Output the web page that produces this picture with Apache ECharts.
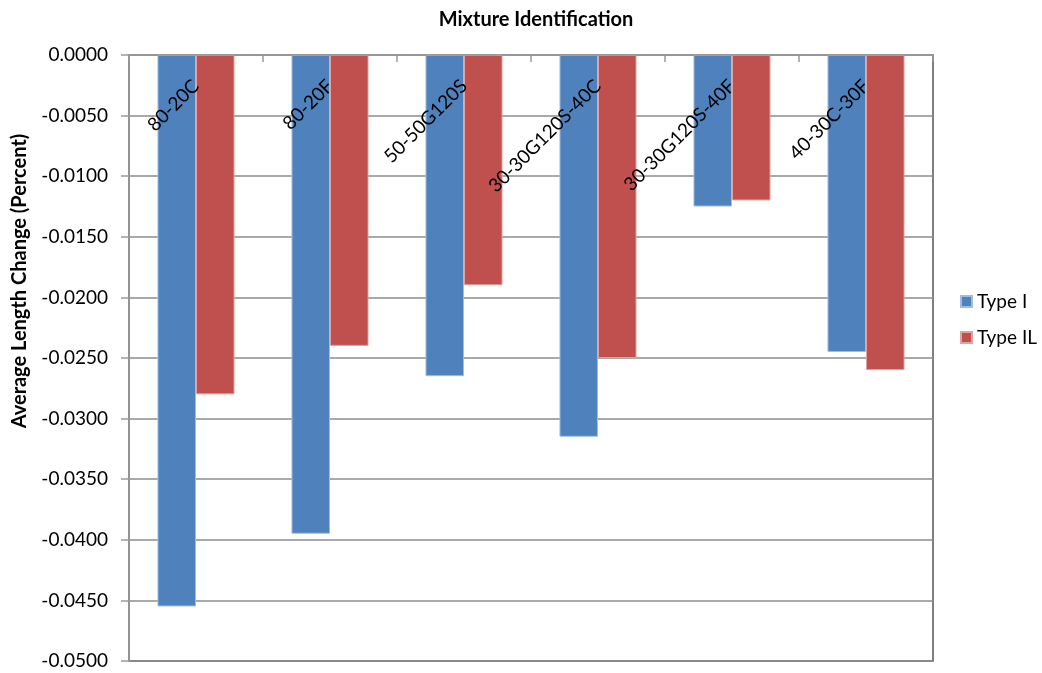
<!DOCTYPE html>
<html>
<head>
<meta charset="utf-8">
<script src="https://cdn.jsdelivr.net/npm/echarts@6/dist/echarts.min.js"></script>
<style>
  html, body { margin: 0; padding: 0; background: #ffffff; }
  #chart { width: 1042px; height: 673px; }
</style>
</head>
<body>
<div id="chart"></div>
<script>
// Mixture names along the category axis
const categories = ['80-20C', '80-20F', '50-50G120S', '30-30G120S-40C', '30-30G120S-40F', '40-30C-30F'];

// Average length change (percent) per cement type
const typeI  = [-0.0455, -0.0395, -0.0265, -0.0315, -0.0125, -0.0245];
const typeIL = [-0.0280, -0.0240, -0.0190, -0.0250, -0.0120, -0.0260];

const seriesNames = ['Type I', 'Type IL'];

const FONT = 'Lato, "Open Sans", sans-serif';

const chart = echarts.init(document.getElementById('chart'), null, { renderer: 'canvas' });

chart.setOption({
  animation: false,
  backgroundColor: '#ffffff',
  title: {
    text: 'Mixture Identification',
    left: 531,
    top: 5,
    textAlign: 'center',
    textStyle: { fontFamily: FONT, fontSize: 20, fontWeight: 'bold', color: '#000000' }
  },
  legend: {
    orient: 'vertical',
    left: 955,
    top: 287,
    itemWidth: 11,
    itemHeight: 11,
    itemGap: 17,
    icon: 'rect',
    data: seriesNames,
    textStyle: { fontFamily: FONT, fontSize: 19, color: '#000000' }
  },
  grid: {
    left: 129,
    top: 55,
    right: 109,
    bottom: 12,
    show: true,
    borderColor: '#555555',
    borderWidth: 1.5,
    containLabel: false,
    outerBoundsMode: 'none'
  },
  xAxis: {
    type: 'category',
    position: 'top',
    data: categories,
    axisLine: { show: true, onZero: false, lineStyle: { color: '#9a9a9a', width: 1.5 } },
    axisTick: { show: true, inside: true, length: 7, alignWithLabel: false, lineStyle: { color: '#9a9a9a', width: 1.5 } },
    axisLabel: {
      inside: true,
      rotate: -45,
      margin: 28,
      interval: 0,
      fontFamily: FONT,
      fontSize: 19,
      color: '#000000'
    },
    splitLine: { show: false },
    z: 10
  },
  yAxis: {
    type: 'value',
    min: -0.05,
    max: 0,
    interval: 0.005,
    name: 'Average Length Change (Percent)',
    nameLocation: 'middle',
    nameGap: 99,
    nameRotate: 90,
    // title sits above the plot's vertical middle
    nameTextStyle: { fontFamily: FONT, fontSize: 20, fontWeight: 'bold', color: '#000000', padding: [0, 0, 0, 154] },
    axisLine: { show: true, lineStyle: { color: '#9a9a9a', width: 1.5 } },
    axisTick: { show: true, length: 8, lineStyle: { color: '#9a9a9a', width: 1.5 } },
    axisLabel: {
      margin: 21,
      fontFamily: FONT,
      fontSize: 19,
      color: '#000000',
      formatter: v => v.toFixed(4)
    },
    splitLine: { show: true, lineStyle: { color: '#8c8c8c', width: 1.5 } }
  },
  series: [
    {
      name: seriesNames[0],
      type: 'bar',
      data: typeI,
      barGap: '0%',
      barCategoryGap: '42.5%',
      itemStyle: { color: '#4F81BD', borderColor: '#9fbde3', borderWidth: 1 }
    },
    {
      name: seriesNames[1],
      type: 'bar',
      data: typeIL,
      barGap: '0%',
      barCategoryGap: '42.5%',
      itemStyle: { color: '#C0504D', borderColor: '#e0a3a1', borderWidth: 1 }
    }
  ]
});
</script>
</body>
</html>
